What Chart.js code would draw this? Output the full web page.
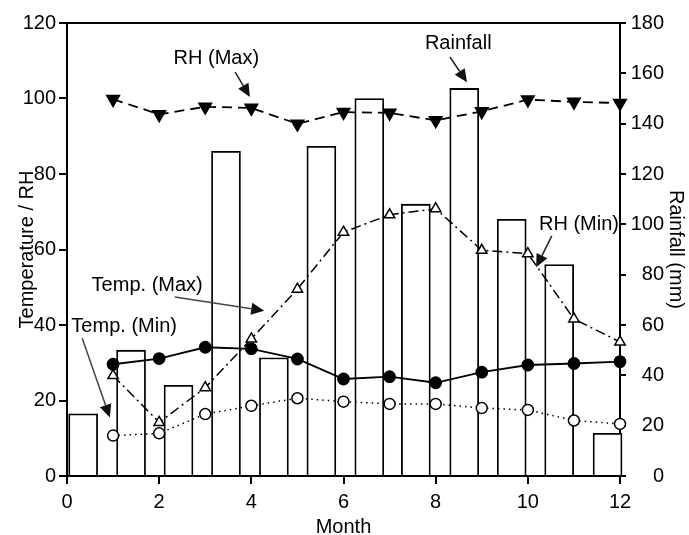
<!DOCTYPE html>
<html><head><meta charset="utf-8">
<script src="https://cdn.jsdelivr.net/npm/chart.js@4.4.0/dist/chart.umd.min.js"></script>
<style>html,body{margin:0;padding:0;background:#fff;} canvas{display:block;}</style>
</head><body>
<canvas id="c" width="689" height="535"></canvas>
<script>
// ---- data ----
const months = [1,2,3,4,5,6,7,8,9,10,11,12];
const rainfallX = [0.35,1.39,2.42,3.45,4.49,5.52,6.56,7.57,8.62,9.65,10.68,11.73];
const rainfall = [24.7,50,36,129,47,131,150,108,154,102,84,17];
const tempMax = [29.6,31.1,34.1,33.7,31.0,25.7,26.3,24.7,27.5,29.4,29.8,30.3];
const tempMin = [10.7,11.3,16.4,18.6,20.6,19.7,19.1,19.1,18.0,17.5,14.7,13.8];
const rhMin = [26.6,14.2,23.4,36.3,49.5,64.6,69.2,70.8,59.8,58.9,41.6,35.5];
const rhMax = [99.8,95.8,97.8,97.5,93.3,96.4,96.2,94.2,96.6,99.7,99.1,98.8];
const xTickValues = [0,2,4,6,8,10,12];
const leftTickValues = [0,20,40,60,80,100,120];
const rightTickValues = [0,20,40,60,80,100,120,140,160,180];

// annotation labels (data coordinates on x / left y)
const notes = [
  {text:'RH (Max)', tx:3.24, ty:110.6, from:[3.65,107.0], to:[3.97,100.4], color:'#222'},
  {text:'Rainfall', tx:8.49, ty:114.6, from:[8.31,111.0], to:[8.68,104.3], color:'#222'},
  {text:'RH (Min)', tx:11.11, ty:66.6, from:[10.52,63.6], to:[10.18,55.3], color:'#222'},
  {text:'Temp. (Max)', tx:1.74, ty:50.4, from:[2.34,47.4], to:[4.28,43.8], color:'#444'},
  {text:'Temp. (Min)', tx:1.24, ty:39.5, from:[0.33,36.5], to:[0.93,15.5], color:'#444'}
];

const FONT = "'Liberation Sans', Arial, sans-serif";
const pts = (ys) => months.map((m,i)=>({x:m, y:ys[i]}));

const annot = {
  id:'annot',
  afterDraw(chart){
    const {ctx, chartArea:a, scales:{x,y,y2}} = chart;
    ctx.save();
    ctx.strokeStyle='#000'; ctx.lineWidth=2;
    ctx.beginPath(); ctx.moveTo(a.left, a.top); ctx.lineTo(a.right, a.top); ctx.stroke();
    ctx.font = '20px ' + FONT;
    ctx.fillStyle='#000';
    // right axis tick labels, right aligned
    ctx.textAlign='right'; ctx.textBaseline='middle';
    rightTickValues.forEach(v=>{
      ctx.fillText(String(v), a.right + 44, y2.getPixelForValue(v));
    });
    ctx.textAlign='center';
    notes.forEach(n=>{
      ctx.fillText(n.text, x.getPixelForValue(n.tx), y.getPixelForValue(n.ty));
      const x0=x.getPixelForValue(n.from[0]), y0=y.getPixelForValue(n.from[1]);
      const x1=x.getPixelForValue(n.to[0]), y1=y.getPixelForValue(n.to[1]);
      const ang=Math.atan2(y1-y0,x1-x0);
      const hl=13, hw=6;
      const bx=x1-Math.cos(ang)*hl, by=y1-Math.sin(ang)*hl;
      ctx.strokeStyle=n.color; ctx.lineWidth=1.5;
      ctx.beginPath(); ctx.moveTo(x0,y0); ctx.lineTo(bx,by); ctx.stroke();
      ctx.fillStyle='#111';
      ctx.beginPath(); ctx.moveTo(x1,y1);
      ctx.lineTo(bx+Math.sin(ang)*hw, by-Math.cos(ang)*hw);
      ctx.lineTo(bx-Math.sin(ang)*hw, by+Math.cos(ang)*hw);
      ctx.closePath(); ctx.fill();
      ctx.fillStyle='#000';
    });
    ctx.restore();
  }
};

new Chart(document.getElementById('c'), {
  data:{
    datasets:[
      {type:'bar', label:'Rainfall', data:rainfallX.map((m,i)=>({x:m,y:rainfall[i]})), yAxisID:'y2',
       backgroundColor:'#fff', borderColor:'#000', borderWidth:1.8, barThickness:29, order:10, clip:false},
      {type:'line', label:'RH (Max)', data:pts(rhMax), yAxisID:'y', borderColor:'#000', borderWidth:1.8,
       borderDash:[10,6], pointStyle:'triangle', rotation:180, pointRadius:7, pointBackgroundColor:'#000',
       pointBorderColor:'#000', tension:0, order:1, clip:false},
      {type:'line', label:'RH (Min)', data:pts(rhMin), yAxisID:'y', borderColor:'#000', borderWidth:1.5,
       borderDash:[10,4,2,4], pointStyle:'triangle', pointRadius:6, pointBackgroundColor:'#fff',
       pointBorderColor:'#000', pointBorderWidth:1.5, tension:0, order:2, clip:false},
      {type:'line', label:'Temp. (Max)', data:pts(tempMax), yAxisID:'y', borderColor:'#000', borderWidth:1.8,
       pointStyle:'circle', pointRadius:5.5, pointBackgroundColor:'#000', pointBorderColor:'#000', tension:0, order:3, clip:false},
      {type:'line', label:'Temp. (Min)', data:pts(tempMin), yAxisID:'y', borderColor:'#000', borderWidth:1.5,
       borderDash:[1.5,4], pointStyle:'circle', pointRadius:5.5, pointBackgroundColor:'#fff',
       pointBorderColor:'#000', pointBorderWidth:1.5, tension:0, order:4, clip:false}
    ]
  },
  options:{
    responsive:false, animation:false, devicePixelRatio:1,
    layout:{padding:{top:23, left:0, right:0, bottom:0}},
    plugins:{legend:{display:false}, tooltip:{enabled:false}},
    scales:{
      x:{type:'linear', min:0, max:12, position:'bottom', offset:false,
        afterFit(s){s.height=59;},
        afterBuildTicks(s){s.ticks = xTickValues.map(v=>({value:v}));},
        grid:{drawOnChartArea:false, color:'#000', tickLength:8, lineWidth:2, offset:false},
        border:{display:true, color:'#000', width:2},
        ticks:{color:'#000', font:{family:FONT, size:20}, padding:6, maxRotation:0, autoSkip:false},
        title:{display:true, text:'Month', color:'#000', font:{family:FONT, size:20, lineHeight:0.8}, padding:0}
      },
      y:{type:'linear', min:0, max:120, position:'left',
        afterFit(s){s.width=67;},
        afterBuildTicks(s){s.ticks = leftTickValues.map(v=>({value:v}));},
        grid:{drawOnChartArea:false, color:'#000', tickLength:8, lineWidth:2},
        border:{display:true, color:'#000', width:2},
        ticks:{color:'#000', font:{family:FONT, size:20}, padding:3, autoSkip:false},
        title:{display:true, text:'Temperature / RH', color:'#000', font:{family:FONT, size:20, lineHeight:1.2}, padding:{top:15.5, bottom:0}}
      },
      y2:{type:'linear', min:0, max:180, position:'right',
        afterFit(s){s.width=69;},
        afterBuildTicks(s){s.ticks = rightTickValues.map(v=>({value:v}));},
        grid:{drawOnChartArea:false, color:'#000', tickLength:6, lineWidth:2},
        border:{display:true, color:'#000', width:2},
        ticks:{display:false},
        title:{display:true, text:'Rainfall (mm)', color:'#000', font:{family:FONT, size:20, lineHeight:1.2}, padding:{top:1, bottom:0}}
      }
    }
  },
  plugins:[annot]
});
</script>
</body></html>
